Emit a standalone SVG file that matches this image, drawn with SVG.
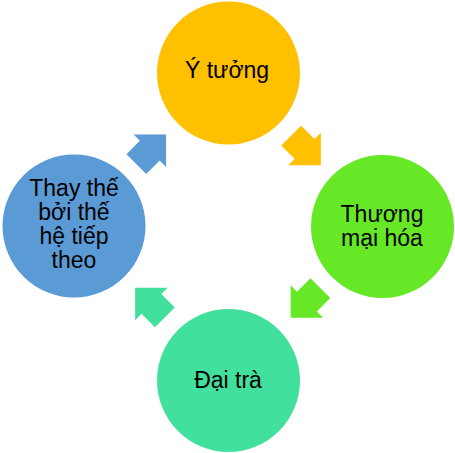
<svg xmlns="http://www.w3.org/2000/svg" width="455" height="453" viewBox="0 0 455 453">
  <defs>
    <style>
      text { font-family: "Liberation Sans", Arial, sans-serif; font-size: 23px; fill: #000; text-anchor: middle; }
      .c-top { fill: #FFC000; }
      .c-right { fill: #66E826; }
      .c-bottom { fill: #42E09D; }
      .c-left { fill: #5B9BD5; }
    </style>
    <polygon id="arrow" points="-21,-14 -2,-14 -2,-23 21,0 -2,23 -2,14 -21,14"/>
  </defs>
  <rect width="455" height="453" fill="#fff"/>
  <g id="connectors">
    <use href="#arrow" class="c-top" transform="translate(306,150.4) rotate(45)"/>
    <use href="#arrow" class="c-right" transform="translate(305.5,303) rotate(135)"/>
    <use href="#arrow" class="c-bottom" transform="translate(150,302.5) rotate(225)"/>
    <use href="#arrow" class="c-left" transform="translate(151.2,149.3) rotate(-45)"/>
  </g>
  <g id="node-y-tuong">
    <circle class="c-top" cx="228.5" cy="73" r="71.5"/>
    <text x="227" y="77.5">Ý tưởng</text>
  </g>
  <g id="node-thuong-mai-hoa">
    <circle class="c-right" cx="382.5" cy="226.5" r="71.5"/>
    <text x="382" y="222">Thương</text>
    <text x="382" y="245.5">mại hóa</text>
  </g>
  <g id="node-dai-tra">
    <circle class="c-bottom" cx="228.5" cy="380.5" r="71.5"/>
    <text x="228" y="387.5">Đại trà</text>
  </g>
  <g id="node-thay-the">
    <circle class="c-left" cx="74" cy="226" r="71.5"/>
    <text x="74" y="196">Thay thế</text>
    <text x="74" y="220">bởi thế</text>
    <text x="74" y="244">hệ tiếp</text>
    <text x="74" y="268">theo</text>
  </g>
</svg>
